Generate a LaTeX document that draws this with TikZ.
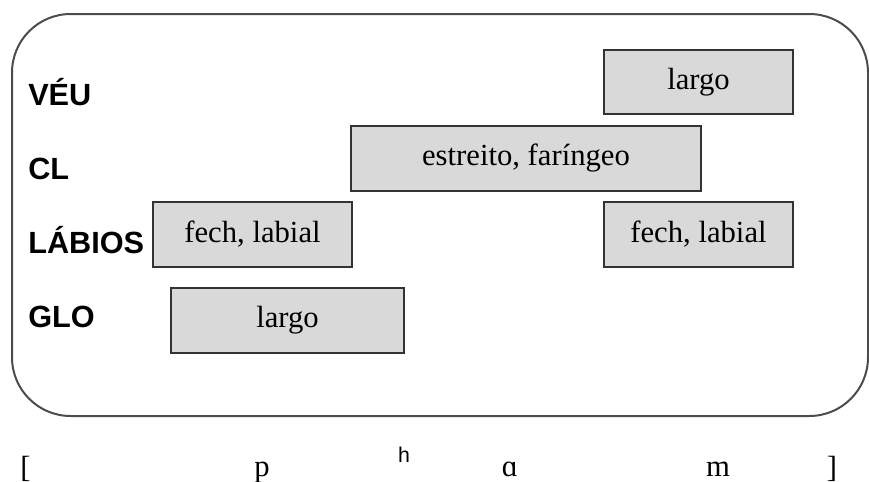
\documentclass[tikz,border=0pt]{standalone}
\usepackage{fontspec}
\setmainfont{Liberation Serif}
\setsansfont{Liberation Sans}
\usepackage{tikz}
\usetikzlibrary{positioning}

\begin{document}
\begin{tikzpicture}[x=0.75pt, y=-0.75pt]
	\tikzstyle{gesto} = [rectangle, draw=black!80, line width=1.1pt, fill=black!15, inner sep=0pt, minimum height=48.75pt, text centered, font=\fontsize{23}{27}\selectfont]
	\tikzstyle{tier} = [anchor=base west, inner sep=0pt, font=\fontsize{23}{27}\selectfont\sffamily\bfseries]
	\tikzstyle{fone} = [anchor=base, inner sep=0pt, font=\fontsize{23}{27}\selectfont]

	\useasboundingbox (0,0) rectangle (869,482);

	% moldura
	\draw[black!70, line width=1.5pt, rounded corners=44pt] (12,14) rectangle (868,416);

	% camadas
	\node[tier](veu) at (28,105){VÉU};
	\node[tier](cl) at (28,179){CL};
	\node[tier](labios) at (28,253){LÁBIOS};
	\node[tier](glo) at (28,327){GLO};

	% gestos
	\node[gesto, minimum width=141.75pt, minimum height=48pt](veularg) at (698.5,82){largo};
	\node[gesto, minimum width=262.5pt](clestr) at (526,158.5){estreito, faríngeo};
	\node[gesto, minimum width=149.25pt](labfech) at (252.5,234.5){fech, labial};
	\node[gesto, minimum width=141.75pt](labfechb) at (698.5,234.5){fech, labial};
	\node[gesto, minimum width=174.75pt](glolarg) at (287.5,320.5){largo};

	% transcrição
	\node[fone, anchor=base west](abre) at (20,477){[};
	\node[fone](fp) at (262,476){p};
	\node[fone, font=\fontsize{16}{18}\selectfont\sffamily](fh) at (404,462){h};
	\node[fone](fa) at (510,476){ɑ};
	\node[fone](fm) at (718,476){m};
	\node[fone](fecha) at (832,477){]};

\end{tikzpicture}
\end{document}
